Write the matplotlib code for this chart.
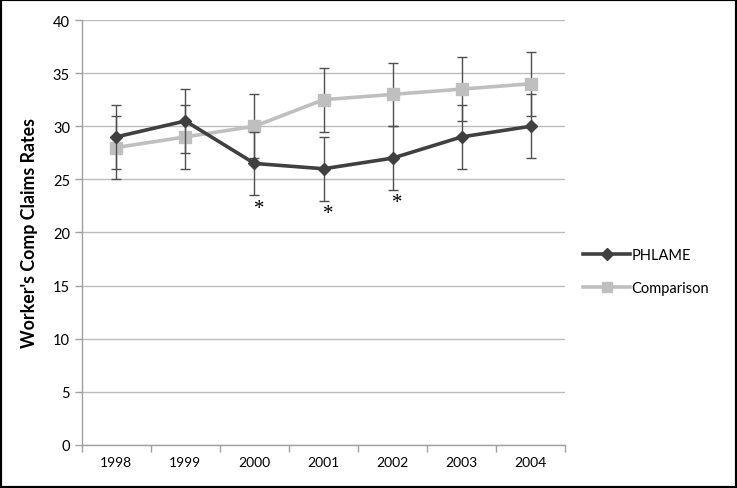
import matplotlib
matplotlib.use('Agg')
import matplotlib.pyplot as plt
from matplotlib.patches import Rectangle
from matplotlib.lines import Line2D
import numpy as np

years = ['1998', '1999', '2000', '2001', '2002', '2003', '2004']
phlame = [29, 30.5, 26.5, 26, 27, 29, 30]
comparison = [28, 29, 30, 32.5, 33, 33.5, 34]
phlame_err = [3, 3, 3, 3, 3, 3, 3]
comparison_err = [3, 3, 3, 3, 3, 3, 3]
# years marked with a significance asterisk
flagged = ['2000', '2001', '2002']

plt.rcParams['font.family'] = ['Lato', 'DejaVu Sans']

fig = plt.figure(figsize=(7.37, 4.89), dpi=100)
ax = fig.add_axes([0.111, 0.088, 0.656, 0.869])

x = np.arange(len(years))
dark = '#404040'
light = '#bfbfbf'

ax.errorbar(x, comparison, yerr=comparison_err, color=light, lw=2.6, marker='s',
            ms=8.5, mfc=light, mec=light, ecolor='#505050', elinewidth=1,
            capsize=3.5, capthick=1, zorder=3)
ax.errorbar(x, phlame, yerr=phlame_err, color=dark, lw=2.6, marker='D',
            ms=6, mfc=dark, mec=dark, ecolor='#505050', elinewidth=1,
            capsize=3.5, capthick=1, zorder=4)

for yr in flagged:
    i = years.index(yr)
    ax.text(i + 0.07, phlame[i] - phlame_err[i] - 1.2, '*', ha='center', va='center',
            fontsize=15, family='Liberation Serif', color='black')

ax.set_xlim(-0.5, len(years) - 0.5)
ax.set_ylim(0, 40)
ax.set_yticks(range(0, 41, 5))
ax.set_xticks(x)
ax.set_xticklabels(years)
ax.set_xticks(np.arange(-0.5, len(years), 1), minor=True)
ax.tick_params(axis='x', which='major', length=0, labelsize=10, pad=8)
ax.tick_params(axis='x', which='minor', length=5, color='#a0a0a0', width=1)
ax.tick_params(axis='y', length=5, color='#a0a0a0', width=1, labelsize=10.5)

ax.yaxis.grid(True, color='#bdbdbd', lw=1)
ax.set_axisbelow(True)
for s in ['top', 'right']:
    ax.spines[s].set_visible(False)
for s in ['left', 'bottom']:
    ax.spines[s].set_color('#a0a0a0')
    ax.spines[s].set_linewidth(1)

ax.set_ylabel("Worker's Comp Claims Rates", fontsize=12.8, fontweight='bold', labelpad=11)

handles = [Line2D([], [], color=dark, lw=2.6, marker='D', ms=6),
           Line2D([], [], color=light, lw=2.6, marker='s', ms=7.5)]
ax.legend(handles, ['PHLAME', 'Comparison'], loc='center left', bbox_to_anchor=(1.01, 0.409),
          frameon=False, fontsize=10.5, handlelength=3.2, handletextpad=0.1,
          labelspacing=1.3)

fig.patches.append(Rectangle((0, 0), 1, 1, transform=fig.transFigure, fill=False,
                             edgecolor='black', lw=3))

plt.savefig('out.png', dpi=100)
